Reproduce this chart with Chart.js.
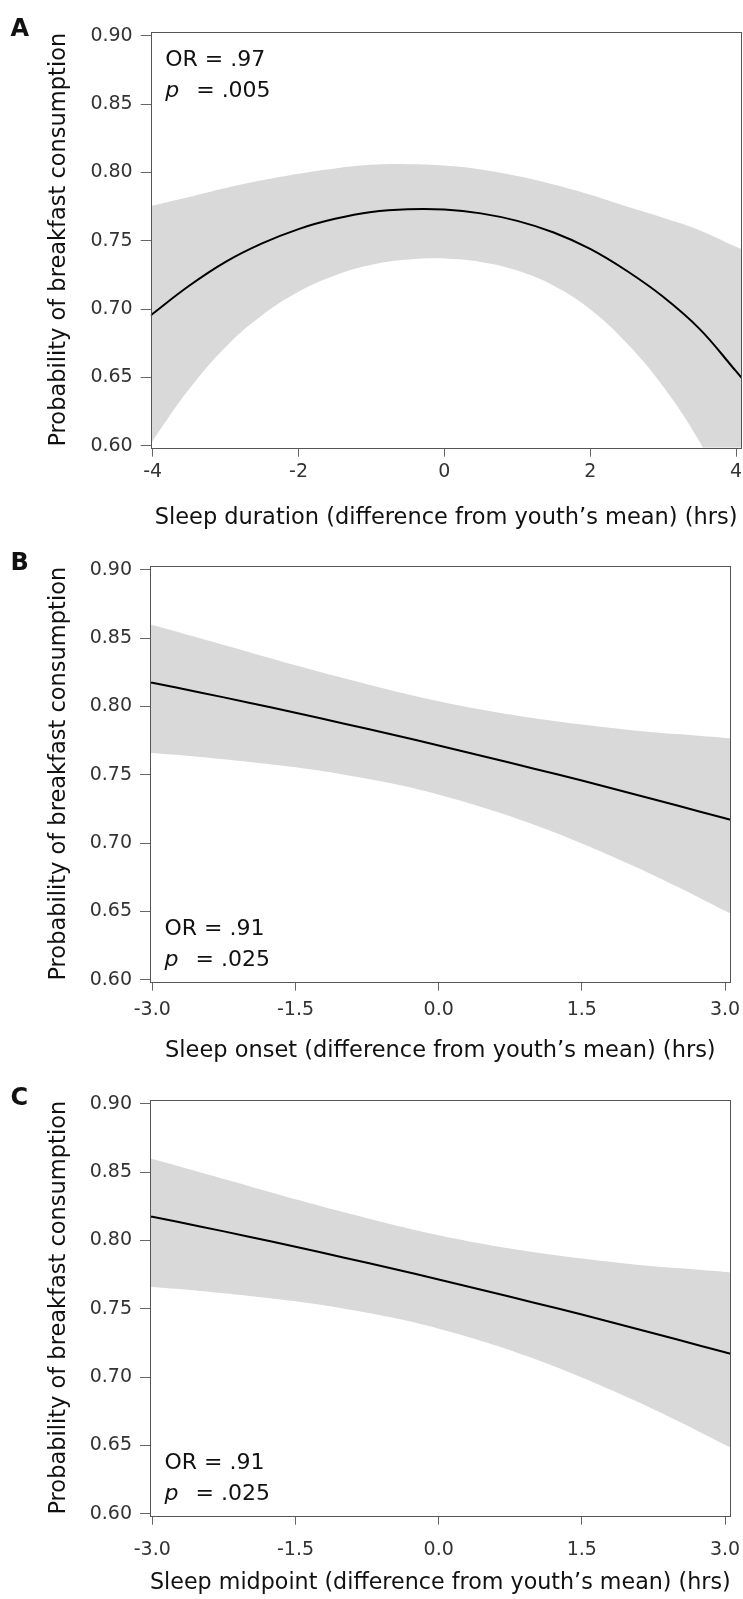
<!DOCTYPE html>
<html>
<head>
<meta charset="utf-8">
<script src="https://cdn.jsdelivr.net/npm/chart.js@4.4.1/dist/chart.umd.min.js"></script>
<style>
html,body{margin:0;padding:0;background:#fff;width:743px;height:1599px;overflow:hidden;position:relative;}
canvas{position:absolute;left:0;}
</style>
</head>
<body>
<canvas id="cA" width="743" height="534" style="top:0px"></canvas>
<canvas id="cB" width="743" height="534" style="top:534px"></canvas>
<canvas id="cC" width="743" height="531" style="top:1068px"></canvas>
<script>
// ---------- data ----------
const yTicks = [0.60, 0.65, 0.70, 0.75, 0.80, 0.85, 0.90];
const yTickLabels = ['0.60', '0.65', '0.70', '0.75', '0.80', '0.85', '0.90'];
const yTitle = 'Probability of breakfast consumption';

// Panel A: sleep duration
const xTicksA = [-4, -2, 0, 2, 4];
const xLabelsA = ['-4', '-2', '0', '2', '4'];
const xTitleA = 'Sleep duration (difference from youth\u2019s mean) (hrs)';
const statsA = ['OR = .97', 'p', '= .005'];
const xA     = [-4.03, -4, -3.5, -3, -2.5, -2, -1.5, -1, -0.5, 0, 0.5, 1, 1.5, 2, 2.5, 3, 3.5, 4, 4.08];
const fitA   = [0.6950, 0.6965, 0.7170, 0.7345, 0.7480, 0.7585, 0.7660, 0.7710, 0.7730, 0.7728, 0.7700, 0.7645, 0.7560, 0.7440, 0.7280, 0.7090, 0.6855, 0.6545, 0.6495];
const upperA = [0.7752, 0.7757, 0.7820, 0.7886, 0.7942, 0.7990, 0.8029, 0.8055, 0.8060, 0.8050, 0.8021, 0.7973, 0.7911, 0.7836, 0.7750, 0.7668, 0.7577, 0.7455, 0.7438];
const lowerA = [0.6010, 0.6037, 0.6414, 0.6723, 0.6955, 0.7127, 0.7246, 0.7324, 0.7362, 0.7370, 0.7345, 0.7282, 0.7171, 0.6999, 0.6751, 0.6434, 0.6030, 0.5506, 0.5419];

// Panel B: sleep onset
const xTicksB = [-3, -1.5, 0, 1.5, 3];
const xLabelsB = ['-3.0', '-1.5', '0.0', '1.5', '3.0'];
const xTitleB = 'Sleep onset (difference from youth\u2019s mean) (hrs)';
const statsB = ['OR = .91', 'p', '= .025'];
const xB     = [-3.03, -3, -2.5, -2, -1.5, -1, -0.5, 0, 0.5, 1, 1.5, 2, 2.5, 3, 3.06];
const fitB   = [0.8176, 0.8173, 0.8102, 0.8029, 0.7953, 0.7875, 0.7796, 0.7714, 0.7630, 0.7544, 0.7457, 0.7366, 0.7274, 0.7181, 0.7169];
const upperB = [0.8599, 0.8595, 0.8498, 0.8400, 0.8301, 0.8207, 0.8118, 0.8038, 0.7970, 0.7913, 0.7867, 0.7828, 0.7797, 0.7769, 0.7766];
const lowerB = [0.7660, 0.7658, 0.7630, 0.7595, 0.7554, 0.7502, 0.7437, 0.7354, 0.7253, 0.7134, 0.6997, 0.6845, 0.6681, 0.6505, 0.6484];

// Panel C: sleep midpoint
const xTicksC = [-3, -1.5, 0, 1.5, 3];
const xLabelsC = ['-3.0', '-1.5', '0.0', '1.5', '3.0'];
const xTitleC = 'Sleep midpoint (difference from youth\u2019s mean) (hrs)';
const statsC = ['OR = .91', 'p', '= .025'];
const xC     = [-3.03, -3, -2.5, -2, -1.5, -1, -0.5, 0, 0.5, 1, 1.5, 2, 2.5, 3, 3.06];
const fitC   = [0.8176, 0.8173, 0.8102, 0.8029, 0.7953, 0.7875, 0.7796, 0.7714, 0.7630, 0.7544, 0.7457, 0.7366, 0.7274, 0.7181, 0.7169];
const upperC = [0.8599, 0.8595, 0.8498, 0.8400, 0.8301, 0.8207, 0.8118, 0.8038, 0.7970, 0.7913, 0.7867, 0.7828, 0.7797, 0.7769, 0.7766];
const lowerC = [0.7660, 0.7658, 0.7630, 0.7595, 0.7554, 0.7502, 0.7437, 0.7354, 0.7253, 0.7134, 0.6997, 0.6845, 0.6681, 0.6505, 0.6484];

// ---------- rendering ----------
Chart.defaults.font.family = '"DejaVu Sans", sans-serif';

const framePlugin = {
  id: 'frame',
  afterDraw(chart, args, o) {
    const ctx = chart.ctx, a = chart.chartArea;
    ctx.save();
    ctx.strokeStyle = '#555';
    ctx.lineWidth = 1;
    const l = Math.round(a.left) + 0.5, t = Math.round(a.top) + 0.5;
    ctx.strokeRect(l, t, Math.round(a.right) - Math.round(a.left) - 1, Math.round(a.bottom) - Math.round(a.top));
    ctx.fillStyle = '#111';
    ctx.textBaseline = 'alphabetic';
    ctx.textAlign = 'left';
    ctx.font = 'bold 24px "DejaVu Sans"';
    ctx.fillText(o.letter, 10.5, o.letterY);
    const x0 = a.left + 14.5;
    const y1 = o.top ? a.top + 34 : a.bottom - 46.7;
    ctx.font = '22px "DejaVu Sans"';
    ctx.fillText(o.stats[0], x0, y1);
    ctx.font = 'italic 22px "DejaVu Sans"';
    ctx.fillText(o.stats[1], x0, y1 + 31);
    ctx.font = '22px "DejaVu Sans"';
    ctx.fillText(o.stats[2], x0 + 31, y1 + 31);
    ctx.restore();
  }
};

function panel(id, d) {
  const H = document.getElementById(id).height;
  const pts = (xs, ys) => xs.map((x, i) => ({x: x, y: ys[i]}));
  return new Chart(document.getElementById(id), {
    type: 'line',
    data: {
      datasets: [
        {data: pts(d.x, d.fit), borderColor: '#000', borderWidth: 2, pointRadius: 0, fill: false, tension: 0.4},
        {data: pts(d.x, d.upper), borderColor: 'rgba(0,0,0,0)', borderWidth: 0, backgroundColor: '#d9d9d9', pointRadius: 0, fill: '+1', tension: 0.4},
        {data: pts(d.x, d.lower), borderColor: 'rgba(0,0,0,0)', borderWidth: 0, pointRadius: 0, fill: false, tension: 0.4}
      ]
    },
    options: {
      responsive: false,
      animation: false,
      devicePixelRatio: 1,
      events: [],
      layout: {padding: {top: 31.7, right: 743 - d.right, left: 0, bottom: 0}},
      plugins: {
        legend: {display: false},
        tooltip: {enabled: false},
        frame: {letter: d.letter, letterY: d.letterY, stats: d.stats, top: d.statsTop}
      },
      scales: {
        x: {
          type: 'linear', position: 'bottom', bounds: 'data',
          min: d.xmin, max: d.xmax,
          afterBuildTicks: s => { s.ticks = d.xTicks.map(v => ({value: v})); },
          afterFit: s => { s.height = H - 447.7; s.paddingLeft = 0; s.paddingRight = 0; },
          ticks: {autoSkip: false, maxRotation: 0, padding: d.xTickPad, font: {size: 19}, color: '#333',
                  callback: (v, i) => d.xLabels[i]},
          grid: {drawOnChartArea: false, drawTicks: true, tickLength: 9, color: '#666', lineWidth: 1},
          border: {display: false},
          title: {display: true, text: d.xTitle, font: {size: 22.5}, color: '#111', padding: {top: 0, bottom: d.titlePad}}
        },
        y: {
          type: 'linear', position: 'left', bounds: 'data',
          min: 0.59854, max: 0.90293,
          afterBuildTicks: s => { s.ticks = yTicks.map(v => ({value: v})); },
          afterFit: s => { s.width = d.left; s.paddingTop = 0; s.paddingBottom = 0; },
          ticks: {padding: 8, font: {size: 19}, color: '#333', callback: (v, i) => yTickLabels[i]},
          grid: {drawOnChartArea: false, drawTicks: true, tickLength: 10, color: '#666', lineWidth: 1},
          border: {display: false},
          title: {display: true, text: yTitle, font: {size: 22.5}, color: '#111', padding: {top: 46, bottom: 0}}
        }
      }
    },
    plugins: [framePlugin]
  });
}

panel('cA', {x: xA, fit: fitA, upper: upperA, lower: lowerA, xTicks: xTicksA, xLabels: xLabelsA, xTitle: xTitleA,
  stats: statsA, statsTop: true, letter: 'A', letterY: 35.5,
  left: 150.7, right: 741.5, xmin: -4.0274, xmax: 4.0754, xTickPad: 4, titlePad: 2.5});
panel('cB', {x: xB, fit: fitB, upper: upperB, lower: lowerB, xTicks: xTicksB, xLabels: xLabelsB, xTitle: xTitleB,
  stats: statsB, statsTop: false, letter: 'B', letterY: 36,
  left: 150, right: 730.7, xmin: -3.0241, xmax: 3.0597, xTickPad: 8, titlePad: 3.5});
panel('cC', {x: xC, fit: fitC, upper: upperC, lower: lowerC, xTicks: xTicksC, xLabels: xLabelsC, xTitle: xTitleC,
  stats: statsC, statsTop: false, letter: 'C', letterY: 37,
  left: 150, right: 730.7, xmin: -3.0241, xmax: 3.0597, xTickPad: 13.9, titlePad: 2.2});
</script>
</body>
</html>
